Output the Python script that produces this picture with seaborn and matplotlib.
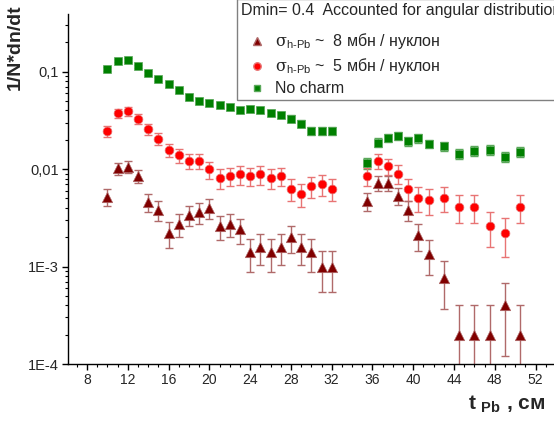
import numpy as np
import pandas as pd
import seaborn as sns
import matplotlib.pyplot as plt
from matplotlib.ticker import FixedLocator, FixedFormatter, MultipleLocator, LogLocator, NullFormatter
from matplotlib.lines import Line2D

# thickness of lead, cm (two groups of bins)
t_pb = [10, 11, 12, 13, 14, 15, 16, 17, 18, 19, 20, 21, 22, 23, 24, 25, 26, 27, 28, 29, 30, 31, 32,
        35.5, 36.5, 37.5, 38.5, 39.5, 40.5, 41.5, 43, 44.5, 46, 47.5, 49, 50.5]

# sigma h-Pb ~ 8 mb / nucleon
sig8 = [0.0052, 0.0102, 0.0106, 0.0085, 0.0046, 0.0038, 0.0022, 0.00275, 0.0034, 0.0036, 0.0040, 0.0026,
        0.00275, 0.0024, 0.0014, 0.0016, 0.0014, 0.0016, 0.0020, 0.0016, 0.0014, 0.0010, 0.0010,
        0.0047, 0.0072, 0.0072, 0.0053, 0.0038, 0.0021, 0.00134, 0.00076, 0.0002, 0.0002, 0.0002, 0.0004, 0.0002]
sig8_err = [0.00102, 0.00143, 0.00146, 0.0013, 0.00096, 0.00087, 0.00066, 0.00074, 0.00082, 0.00085, 0.00089, 0.00072,
            0.00074, 0.00069, 0.00053, 0.00057, 0.00053, 0.00057, 0.00063, 0.00057, 0.00053, 0.00045, 0.00045,
            0.00097, 0.0012, 0.0012, 0.00103, 0.00087, 0.00065, 0.00052, 0.00039, 0.0002, 0.0002, 0.0002, 0.00028, 0.0002]

# sigma h-Pb ~ 5 mb / nucleon
sig5 = [0.0245, 0.0372, 0.0394, 0.0328, 0.0257, 0.0204, 0.0157, 0.0138, 0.0121, 0.0121, 0.0099, 0.0081,
        0.0085, 0.0088, 0.0085, 0.0088, 0.0081, 0.0085, 0.0063, 0.0056, 0.0067, 0.0070, 0.0063,
        0.0085, 0.0121, 0.0107, 0.0090, 0.0063, 0.0051, 0.0048, 0.0051, 0.0041, 0.0041, 0.0026, 0.0022, 0.0041]
sig5_err = [0.0031, 0.0039, 0.0040, 0.0036, 0.0032, 0.0029, 0.0025, 0.00235, 0.0022, 0.0022, 0.0020, 0.0018,
            0.00185, 0.0019, 0.00185, 0.0019, 0.0018, 0.00185, 0.0016, 0.0015, 0.00165, 0.00165, 0.0016,
            0.00185, 0.0022, 0.00205, 0.0019, 0.0016, 0.00143, 0.00139, 0.00143, 0.00128, 0.00128, 0.00102, 0.00094, 0.00128]

# no charm
nocharm = [0.107, 0.130, 0.132, 0.113, 0.096, 0.084, 0.074, 0.064, 0.055, 0.050, 0.048, 0.0457,
           0.0433, 0.040, 0.041, 0.0406, 0.0375, 0.036, 0.033, 0.0293, 0.0246, 0.0246, 0.0246,
           0.0116, 0.0187, 0.0210, 0.0219, 0.0194, 0.0207, 0.0182, 0.0173, 0.0144, 0.0153, 0.0157, 0.0134, 0.0150]
nocharm_err = [0.0046, 0.0051, 0.0051, 0.0048, 0.0044, 0.0041, 0.0038, 0.0036, 0.0033, 0.0032, 0.0031, 0.0030,
               0.0029, 0.0028, 0.0029, 0.00285, 0.0027, 0.0027, 0.0026, 0.0024, 0.0022, 0.0022, 0.0022,
               0.0015, 0.0019, 0.00205, 0.0021, 0.0020, 0.0020, 0.0019, 0.00185, 0.0017, 0.00175, 0.00177, 0.00164, 0.00173]

y_ticks = [1e-4, 1e-3, 1e-2, 1e-1]
y_tick_labels = ["1E-4", "1E-3", "0,01", "0,1"]

sns.set_theme(style="ticks")
plt.rcParams["font.family"] = ["Liberation Sans", "DejaVu Sans"]
plt.rcParams["mathtext.fontset"] = "custom"
plt.rcParams["mathtext.rm"] = "Liberation Sans"
plt.rcParams["mathtext.bf"] = "Liberation Sans:bold"
plt.rcParams["mathtext.sf"] = "DejaVu Serif"

fig = plt.figure(figsize=(5.54, 4.28), dpi=100)
ax = fig.add_axes([68 / 554, 1 - 364 / 428, 1 - 68 / 554, 350 / 428])

sub = "_{\\mathregular{h\u2010Pb}}"
series = [
    (nocharm, nocharm_err, "s", "#008000", "#5aa85a", 30, "No charm"),
    (sig5, sig5_err, "o", "#ff0000", "#e87474", 40, "$\\mathsf{\\sigma}" + sub + "$ ~  5 мбн / нуклон"),
    (sig8, sig8_err, "^", "#800000", "#b06a6a", 56, "$\\mathsf{\\sigma}" + sub + "$ ~  8 мбн / нуклон"),
]

handles = {}
for vals, errs, mk, col, ecol, size, label in series:
    df = pd.DataFrame({"t": t_pb, "v": vals, "e": errs})
    ax.errorbar(df["t"], df["v"], yerr=df["e"], fmt="none", ecolor=ecol,
                elinewidth=1, capsize=3, capthick=1, zorder=2)
    sns.scatterplot(data=df, x="t", y="v", marker=mk, color=col, s=size,
                    edgecolor=ecol, linewidth=0.5, ax=ax, zorder=3)
    handles[mk] = Line2D([], [], ls="none", marker=mk, color=col,
                         markeredgecolor=ecol, markersize=np.sqrt(size) * 0.85, label=label)

ax.set_yscale("log")
ax.set_ylim(1e-4, 0.39)
ax.set_xlim(6.14, 53.8)
ax.set_xlabel("")
ax.set_ylabel("")

ax.xaxis.set_major_locator(MultipleLocator(4))
ax.xaxis.set_minor_locator(MultipleLocator(1))
ax.yaxis.set_major_locator(FixedLocator(y_ticks))
ax.yaxis.set_major_formatter(FixedFormatter(y_tick_labels))
ax.yaxis.set_minor_locator(LogLocator(base=10, subs=np.arange(2, 10)))
ax.yaxis.set_minor_formatter(NullFormatter())

ax.tick_params(which="major", length=4.5, width=1, color="black", labelsize=10.5, pad=2)
ax.tick_params(which="minor", length=2.5, width=0.8, color="black")
ax.tick_params(axis="x", labelsize=10)

for side in ["top", "right"]:
    ax.spines[side].set_visible(False)
for side in ["left", "bottom"]:
    ax.spines[side].set_color("black")
    ax.spines[side].set_linewidth(1)

leg = ax.legend(handles=[handles["^"], handles["o"], handles["s"]],
                title="Dmin= 0.4  Accounted for angular distribution",
                loc="upper left", bbox_to_anchor=(237 / 554, 1 + 1 / 428), bbox_transform=fig.transFigure,
                alignment="left", fontsize=11.5, title_fontsize=11.5, frameon=True, fancybox=False,
                edgecolor="#808080", framealpha=1, borderpad=0.25, borderaxespad=0,
                handlelength=2.0, handletextpad=0.15, labelspacing=0.32)
leg.get_frame().set_linewidth(1)
# a bit more room between the title line and the entries
leg._legend_box.sep = 9.5

fig.text(15 / 554, 1 - 47 / 428, "1/N*dn/dt", rotation=90, ha="center", va="center",
         fontsize=14, fontweight="bold")
fig.text(545 / 554, 1 - 404 / 428, "t $_{\\mathbf{Pb}}$ , см", ha="right", va="center",
         fontsize=15, fontweight="bold")

fig.savefig("out.png", dpi=100)
